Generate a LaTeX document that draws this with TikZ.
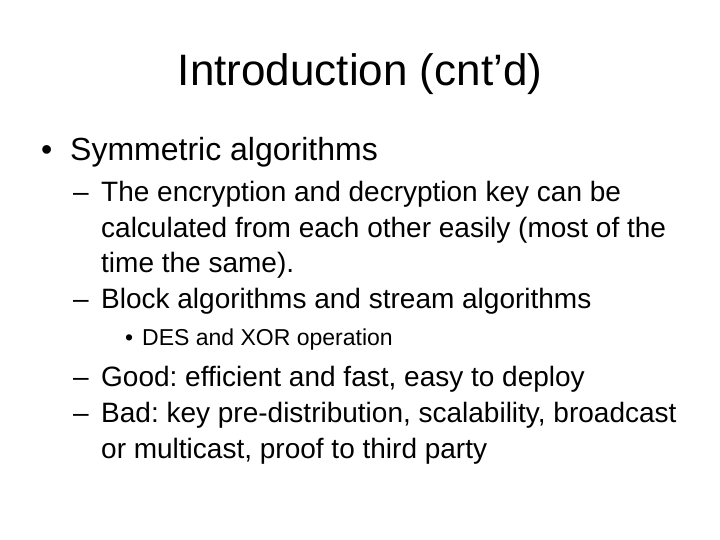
\documentclass[tikz,border=0pt]{standalone}
\usepackage{fontspec}
\setmainfont{Liberation Sans}
\begin{document}
\frenchspacing
\begin{tikzpicture}[x=1pt,y=-1pt,
  txt/.style={anchor=base west,inner sep=0pt},
  lA/.style={txt,font=\fontsize{32}{36}\selectfont},
  lB/.style={txt,font=\fontsize{28}{30}\selectfont},
  lC/.style={txt,font=\fontsize{23}{26}\selectfont}]
\useasboundingbox[fill=white] (0,0) rectangle (720,540);
\node[anchor=base,inner sep=0pt,font=\fontsize{44}{48}\selectfont\frenchspacing] (title) at (360,86) {Introduction (cnt’d)};
\node[lA] (b1) at (41,161) {•};
\node[lA] (t1) at (70,161) {Symmetric algorithms};
\node[lB] (d1) at (73,202) {–};
\node[lB] (t2) at (101,202) {The encryption and decryption key can be};
\node[lB] (t3) at (101,237) {calculated from each other easily (most of the};
\node[lB] (t4) at (101,272) {time the same).};
\node[lB] (d2) at (73,308) {–};
\node[lB] (t5) at (101,308) {Block algorithms and stream algorithms};
\node[lC] (b2) at (125,345) {•};
\node[lC] (t6) at (142,345) {DES and XOR operation};
\node[lB] (d3) at (73,386) {–};
\node[lB] (t7) at (101,386) {Good: efficient and fast, easy to deploy};
\node[lB] (d4) at (73,422) {–};
\node[lB] (t8) at (101,422) {Bad: key pre-distribution, scalability, broadcast};
\node[lB] (t9) at (101,458) {or multicast, proof to third party};
\end{tikzpicture}
\end{document}
